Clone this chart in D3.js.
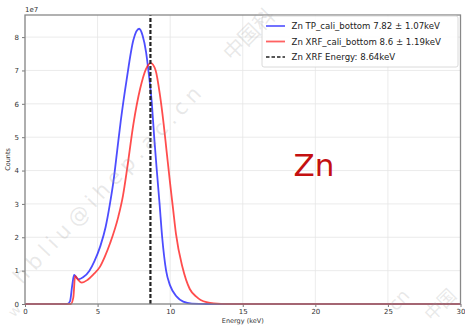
<!DOCTYPE html>
<html>
<head>
<meta charset="utf-8">
<script src="https://cdn.jsdelivr.net/npm/d3@7"></script>
<style>
  body { margin: 0; background: #fff; }
  svg { display: block; font-family: "DejaVu Sans", sans-serif; }
</style>
</head>
<body>
<div id="chart"></div>
<script>
// spectra, counts in units of 1e7
var energyTP = [0, 2.9, 3.1, 3.25, 3.38, 3.5, 3.68, 4.0, 4.44, 4.8, 5.2, 5.55, 5.85, 6.1, 6.35, 6.6, 7.0, 7.47, 7.86, 8.1, 8.34, 8.5, 8.74, 8.9, 9.08, 9.27, 9.45, 9.72, 10.0, 10.45, 10.9, 11.5, 12.5, 30];
var countsTP = [0, 0, 0.08, 0.55, 0.87, 0.82, 0.74, 0.8, 1.0, 1.3, 1.75, 2.3, 3.0, 3.7, 4.6, 5.5, 6.72, 7.92, 8.25, 8.05, 7.55, 7.0, 6.0, 5.0, 4.0, 3.0, 2.0, 1.0, 0.55, 0.22, 0.07, 0.01, 0, 0];

var energyXRF = [0, 3.15, 3.33, 3.45, 3.6, 3.91, 4.3, 4.7, 5.17, 5.5, 5.86, 6.43, 6.75, 7.05, 7.47, 7.93, 8.34, 8.67, 9.0, 9.3, 9.55, 9.75, 10.0, 10.2, 10.4, 10.85, 11.35, 11.8, 12.1, 13.0, 14, 30];
var countsXRF = [0, 0, 0.2, 0.84, 0.76, 0.64, 0.72, 0.88, 1.12, 1.42, 1.82, 2.62, 3.25, 4.1, 5.4, 6.45, 7.05, 7.22, 7.0, 6.25, 5.4, 4.6, 3.6, 2.85, 2.1, 1.1, 0.45, 0.22, 0.12, 0.02, 0, 0];

var xrfEnergy = 8.64;
var xTicks = [0, 5, 10, 15, 20, 25, 30];
var yTicks = [0, 1, 2, 3, 4, 5, 6, 7, 8];
var legendLabels = ["Zn TP_cali_bottom 7.82 \u00b1 1.07keV", "Zn XRF_cali_bottom 8.6 \u00b1 1.19keV", "Zn XRF Energy: 8.64keV"];

var W = 465, H = 326;
var margin = { top: 15, right: 4.5, bottom: 22, left: 25 };

var svg = d3.select("#chart").append("svg")
    .attr("width", W)
    .attr("height", H);

var x = d3.scaleLinear().domain([0, 30]).range([margin.left, W - margin.right]);
var yMax = d3.max(countsTP) * 1.05;
var y = d3.scaleLinear().domain([0, yMax]).range([H - margin.bottom, margin.top]);

// grid
svg.append("g").selectAll("line").data(xTicks).enter().append("line")
    .attr("x1", d => x(d)).attr("x2", d => x(d))
    .attr("y1", y(0)).attr("y2", y(yMax))
    .attr("stroke", "#e6e6e6").attr("stroke-width", 0.8);
svg.append("g").selectAll("line").data(yTicks).enter().append("line")
    .attr("x1", x(0)).attr("x2", x(30))
    .attr("y1", d => y(d)).attr("y2", d => y(d))
    .attr("stroke", "#e6e6e6").attr("stroke-width", 0.8);

// axes
var xAxis = svg.append("g")
    .attr("transform", "translate(0," + y(0) + ")")
    .call(d3.axisBottom(x).tickValues(xTicks).tickSize(3).tickPadding(2).tickFormat(d3.format("d")));
var yAxis = svg.append("g")
    .attr("transform", "translate(" + x(0) + ",0)")
    .call(d3.axisLeft(y).tickValues(yTicks).tickSize(3).tickPadding(3).tickFormat(d3.format("d")));
[xAxis, yAxis].forEach(function (a) {
    a.select(".domain").remove();
    a.selectAll(".tick line").attr("stroke", "#555").attr("stroke-width", 0.8);
    a.selectAll("text").attr("fill", "#333").style("font-size", "7px").style("font-family", "DejaVu Sans");
});

// lines
var line = d3.line()
    .x(d => x(d[0]))
    .y(d => y(d[1]))
    .curve(d3.curveMonotoneX);

svg.append("path")
    .datum(d3.zip(energyTP, countsTP))
    .attr("d", line)
    .attr("fill", "none")
    .attr("stroke", "#2020ff")
    .attr("stroke-opacity", 0.8)
    .attr("stroke-width", 1.8);

svg.append("path")
    .datum(d3.zip(energyXRF, countsXRF))
    .attr("d", line)
    .attr("fill", "none")
    .attr("stroke", "#ff2020")
    .attr("stroke-opacity", 0.8)
    .attr("stroke-width", 1.8);

// XRF energy marker
svg.append("line")
    .attr("x1", x(xrfEnergy)).attr("x2", x(xrfEnergy))
    .attr("y1", y(0)).attr("y2", y(yMax))
    .attr("stroke", "#222")
    .attr("stroke-width", 2.2)
    .attr("stroke-dasharray", "4,2");

// frame
svg.append("rect")
    .attr("x", x(0)).attr("y", y(yMax))
    .attr("width", x(30) - x(0)).attr("height", y(0) - y(yMax))
    .attr("fill", "none").attr("stroke", "#888").attr("stroke-width", 1.3);

// offset & labels
svg.append("text").attr("x", x(0)).attr("y", margin.top - 3)
    .style("font-size", "7px").attr("fill", "#333").text("1e7");
svg.append("text")
    .attr("transform", "translate(10," + (y(0) + y(yMax)) / 2 + ") rotate(-90)")
    .attr("text-anchor", "middle")
    .style("font-size", "6.5px").attr("fill", "#333").text("Counts");
svg.append("text")
    .attr("x", (x(0) + x(30)) / 2).attr("y", H - 3)
    .attr("text-anchor", "middle")
    .style("font-size", "6.5px").attr("fill", "#333").text("Energy (keV)");

// big element label
svg.append("text")
    .attr("x", x(18.5)).attr("y", y(3.85))
    .style("font-size", "31px").attr("fill", "#c41010").text("Zn");

// legend
var leg = svg.append("g").attr("transform", "translate(262,16)");
leg.append("rect")
    .attr("width", 196).attr("height", 51).attr("rx", 2)
    .attr("fill", "#fff").attr("fill-opacity", 0.85)
    .attr("stroke", "#d0d0d0").attr("stroke-width", 0.8);
var legColors = ["#2020ff", "#ff2020", "#222"];
legendLabels.forEach(function (t, i) {
    var cy = 10 + i * 15.5;
    leg.append("line")
        .attr("x1", 4).attr("x2", 23).attr("y1", cy).attr("y2", cy)
        .attr("stroke", legColors[i])
        .attr("stroke-opacity", i < 2 ? 0.7 : 1)
        .attr("stroke-width", i < 2 ? 1.8 : 1.5)
        .attr("stroke-dasharray", i == 2 ? "3.5,2" : null);
    leg.append("text")
        .attr("x", 29.5).attr("y", cy + 3)
        .style("font-size", "8.6px").attr("fill", "#222").text(t);
});

// watermark
var wm = svg.append("g").attr("fill", "#999").attr("fill-opacity", 0.22).style("font-size", "21px");
wm.append("text")
    .attr("transform", "translate(22,285) rotate(-46.5)")
    .attr("textLength", 262).attr("lengthAdjust", "spacing")
    .text("hbliu@ihep.ac.cn");
wm.append("text")
    .attr("transform", "translate(14,318) rotate(-46.5)")
    .style("font-size", "14px")
    .text("w");
wm.append("text")
    .attr("transform", "translate(232,62) rotate(-45)")
    .style("font-family", "Noto Sans CJK SC")
    .text("\u4e2d\u56fd\u79d1");
wm.append("text")
    .attr("transform", "translate(432,322) rotate(-45)")
    .style("font-family", "Noto Sans CJK SC")
    .style("font-size", "18px")
    .text("\u4e2d\u56fd");
wm.append("text")
    .attr("transform", "translate(396,312) rotate(-46.5)")
    .style("font-size", "18px")
    .text("cn");
</script>
</body>
</html>
